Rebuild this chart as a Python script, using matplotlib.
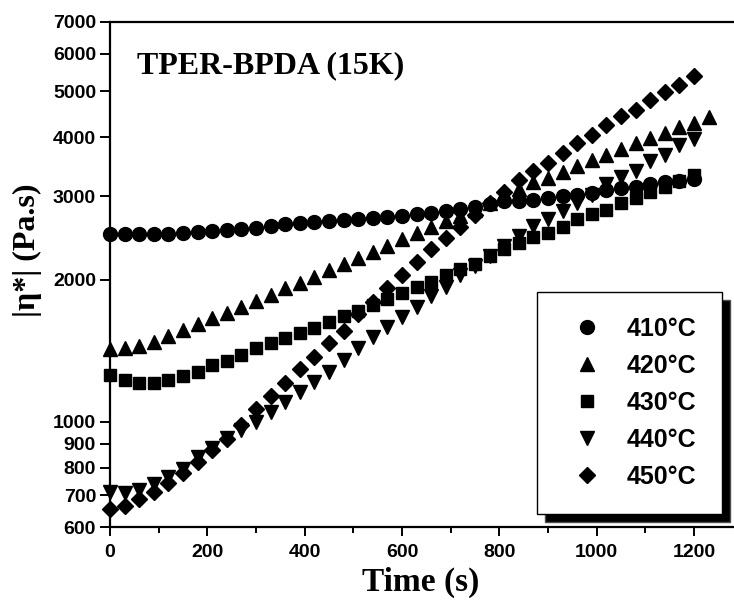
import matplotlib.pyplot as plt
from matplotlib.ticker import FixedLocator, NullLocator, MultipleLocator

# -----------------------
# DATA
# -----------------------
time_s = [0, 30, 60, 90, 120, 150, 180, 210, 240, 270, 300,
          330, 360, 390, 420, 450, 480, 510, 540, 570, 600, 630, 660,
          690, 720, 750, 780, 810, 840, 870, 900, 930,
          960, 990, 1020, 1050, 1080, 1110, 1140, 1170, 1200]
time_420 = time_s + [1230]

eta_410 = [2500, 2490, 2490, 2490, 2500, 2510, 2520, 2530, 2545, 2555, 2575,
           2600, 2620, 2635, 2650, 2660, 2670, 2685, 2700, 2715, 2730, 2750, 2770,
           2795, 2814, 2840, 2888, 2924, 2935, 2944, 2969,
           3002, 3017, 3052, 3091, 3117, 3140, 3183, 3219, 3230, 3260]
eta_420 = [1424, 1432, 1450, 1478, 1520, 1565, 1609, 1657, 1702, 1753, 1804, 1855,
           1917, 1969, 2027, 2095, 2153, 2224, 2290, 2357, 2436, 2511, 2585,
           2665, 2720, 2800, 2900, 3000, 3110, 3219, 3285, 3379,
           3474, 3578, 3666, 3768, 3880, 3976, 4086, 4195, 4289, 4400]
eta_430 = [1257, 1227, 1211, 1211, 1227, 1253, 1277, 1318, 1348, 1385, 1432, 1467,
           1503, 1540, 1578, 1624, 1677, 1716, 1767, 1817, 1870, 1931, 1979,
           2044, 2102, 2157, 2242, 2317, 2385, 2456, 2511, 2585,
           2680, 2745, 2810, 2898, 2969, 3066, 3140, 3230, 3320]
eta_440 = [712, 709, 718, 739, 766, 794, 845, 880, 923, 962, 1001,
           1051, 1104, 1159, 1217, 1277, 1353, 1432, 1510, 1590, 1669, 1753, 1845,
           1931, 2040, 2140, 2240, 2350, 2472, 2595, 2681, 2795,
           2898, 3017, 3183, 3298, 3394, 3565, 3666, 3848, 3958]
eta_450 = [654, 665, 688, 710, 742, 779, 822, 873, 919, 986, 1064,
           1136, 1211, 1292, 1370, 1467, 1560, 1687, 1795, 1922, 2044, 2175, 2317,
           2444, 2580, 2740, 2900, 3066, 3250, 3390, 3520, 3696,
           3880, 4040, 4242, 4432, 4562, 4790, 4988, 5154, 5385]

labels = ["410°C", "420°C", "430°C", "440°C", "450°C"]
y_ticks = [600, 700, 800, 900, 1000, 2000, 3000, 4000, 5000, 6000, 7000]
x_ticks = [0, 200, 400, 600, 800, 1000, 1200]

# -----------------------
# FIGURE
# -----------------------
fig = plt.figure(figsize=(7.34, 6.0), dpi=100)
ax = fig.add_axes([110 / 734, 73 / 600, 624 / 734, 505 / 600])

series = [
    (time_s, eta_410, "o", 10),
    (time_420, eta_420, "^", 10),
    (time_s, eta_430, "s", 9),
    (time_s, eta_440, "v", 10),
    (time_s, eta_450, "D", 8),
]
for (t, eta, mk, ms), lab in zip(series, labels):
    ax.plot(t, eta, linestyle="none", marker=mk, markersize=ms,
            color="black", label=lab, clip_on=False)

ax.set_yscale("log")
ax.set_ylim(600, 7000)
ax.set_xlim(0, 1282)

ax.yaxis.set_major_locator(FixedLocator(y_ticks))
ax.yaxis.set_minor_locator(NullLocator())
ax.set_yticklabels([str(v) for v in y_ticks])
ax.xaxis.set_major_locator(FixedLocator(x_ticks))
ax.xaxis.set_minor_locator(MultipleLocator(100))

ax.spines["right"].set_visible(False)
for side in ["left", "top", "bottom"]:
    ax.spines[side].set_linewidth(1.6)

ax.tick_params(axis="y", which="major", direction="out", length=7, width=1.4,
               pad=3, labelsize=14)
ax.tick_params(axis="x", which="major", direction="out", length=6.5, width=1.4,
               pad=6, labelsize=14)
ax.tick_params(axis="x", which="minor", direction="out", length=4.5, width=1.4)
for lbl in ax.get_xticklabels() + ax.get_yticklabels():
    lbl.set_fontfamily("Liberation Sans")
    lbl.set_fontweight("bold")

ax.text(0.043, 0.899, "TPER-BPDA (15K)", transform=ax.transAxes,
        fontfamily="Liberation Serif", fontweight="bold", fontsize=23,
        va="baseline", ha="left")

fig.text(27 / 734, 0.583, "|η*| (Pa.s)", rotation=90, ha="center", va="center",
         fontfamily="Liberation Serif", fontweight="bold", fontsize=23)
fig.text(421 / 734, 0.004, "Time (s)", ha="center", va="bottom",
         fontfamily="Liberation Serif", fontweight="bold", fontsize=24)

leg = ax.legend(loc="upper left", bbox_to_anchor=(0.684, 0.4653),
                prop={"family": "Liberation Sans", "weight": "bold", "size": 18},
                frameon=True, fancybox=False, edgecolor="black",
                borderpad=1.0, labelspacing=0.52, handlelength=2.0,
                handletextpad=0.6, borderaxespad=0,
                shadow={"ox": 6, "oy": -6, "facecolor": "black", "alpha": 1})
leg.get_frame().set_linewidth(1.0)

fig.savefig("out.png", dpi=100)
